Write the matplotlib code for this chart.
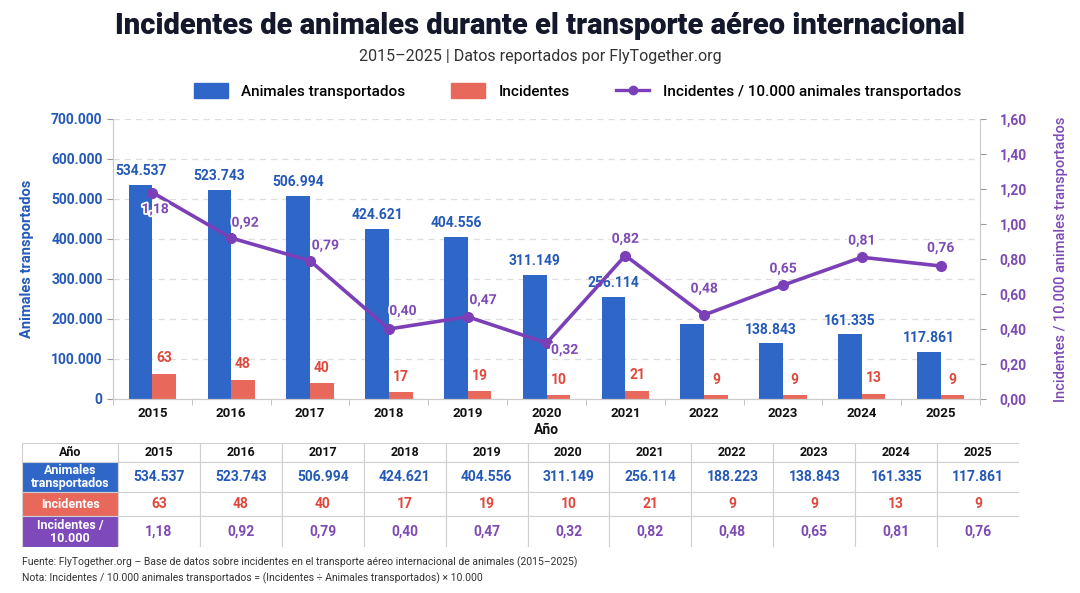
import matplotlib
matplotlib.use("Agg")
import matplotlib.pyplot as plt
import matplotlib.patheffects as pe
from matplotlib.patches import Rectangle
from matplotlib.lines import Line2D
from matplotlib.ticker import FuncFormatter, FixedLocator
import numpy as np

plt.rcParams['font.family'] = ['Roboto', 'DejaVu Sans']

# datos
anios = ["2015", "2016", "2017", "2018", "2019", "2020", "2021", "2022", "2023", "2024", "2025"]
animales = [534537, 523743, 506994, 424621, 404556, 311149, 256114, 188223, 138843, 161335, 117861]
incidentes = [63, 48, 40, 17, 19, 10, 21, 9, 9, 13, 9]
tasa = [1.18, 0.92, 0.79, 0.40, 0.47, 0.32, 0.82, 0.48, 0.65, 0.81, 0.76]
# en el gráfico no aparece la etiqueta de 2022 sobre la barra azul
mostrar_etq_azul = [True, True, True, True, True, True, True, False, True, True, True]

AZUL = "#2F67C9"
ROJO = "#E8695B"
MORADO = "#7B40B8"
MORADO_TXT = "#7E4BB5"
ROJO_TXT = "#E0483C"
AZUL_TXT = "#2459B8"


def miles(v):
    return f"{int(round(v)):,}".replace(",", ".")


def coma(v, nd=2):
    return f"{v:.{nd}f}".replace(".", ",")


fig = plt.figure(figsize=(10.8, 5.93), dpi=100)
fig.patch.set_facecolor("white")

ax = fig.add_axes([113 / 1080, 1 - 399 / 593, 867 / 1080, 280 / 593])
ax2 = ax.twinx()

x = np.arange(len(anios))
w = 0.3
ax.bar(x - w / 2, animales, w, color=AZUL, zorder=2)
# incidentes se dibujan a escala x1000 sobre el eje izquierdo
inc_esc = [v * 1000 for v in incidentes]
ax.bar(x + w / 2, inc_esc, w, color=ROJO, zorder=2)

for i in range(len(anios)):
    if mostrar_etq_azul[i]:
        ax.annotate(miles(animales[i]), (x[i] - w / 2, animales[i]), xytext=(0, 5),
                    textcoords="offset points", ha="center", va="bottom",
                    fontsize=10, fontweight="bold", color=AZUL_TXT)
    ax.annotate(str(incidentes[i]), (x[i] + w / 2, inc_esc[i]), xytext=(0, 6),
                textcoords="offset points", ha="center", va="bottom",
                fontsize=10, fontweight="bold", color=ROJO_TXT)

ax.set_xlim(-0.5, len(anios) - 0.5)
ax.set_ylim(0, 700000)
ax.set_yticks(np.arange(0, 700001, 100000))
ax.yaxis.set_major_formatter(FuncFormatter(lambda v, p: miles(v)))
ax.tick_params(axis="y", colors="#9a9a9a", labelcolor=AZUL_TXT, labelsize=10, length=4)
for t in ax.get_yticklabels():
    t.set_fontweight("bold")
ax.set_xticks(x)
ax.set_xticklabels(anios, fontsize=9.5, fontweight="bold", color="#111111")
ax.xaxis.set_minor_locator(FixedLocator(np.arange(-0.5, len(anios), 1)))
ax.tick_params(axis="x", which="major", length=0, pad=6)
ax.tick_params(axis="x", which="minor", length=4, color="#bbbbbb")
ax.grid(axis="y", linestyle=(0, (5, 4)), color="#dddddd", linewidth=0.9, zorder=0)
ax.set_axisbelow(True)
ax.set_ylabel("Animales transportados", color=AZUL_TXT, fontsize=10.5, fontweight="bold", labelpad=12)
ax.set_xlabel("Año", fontsize=10, fontweight="bold", color="#111111", labelpad=2)
ax.spines["top"].set_visible(False)
ax2.spines["top"].set_visible(False)
for s in ["left", "bottom", "right"]:
    ax.spines[s].set_color("#cccccc")
    ax2.spines[s].set_color("#cccccc")

ax2.plot(x, tasa, color=MORADO, linewidth=2.6, marker="o", markersize=7, zorder=5)
ax2.set_ylim(0, 1.6)
ax2.set_yticks(np.arange(0, 1.61, 0.2))
ax2.yaxis.set_major_formatter(FuncFormatter(lambda v, p: coma(v)))
ax2.tick_params(axis="y", colors="#9a9a9a", labelcolor=MORADO_TXT, labelsize=10, length=4, pad=10)
for t in ax2.get_yticklabels():
    t.set_fontweight("bold")
ax2.set_ylabel("Incidentes / 10.000 animales transportados", color=MORADO_TXT, fontsize=10.5,
               fontweight="medium", labelpad=20)

# posiciones de las etiquetas de la línea (en puntos)
despl = [(2, -12), (10, 11), (11, 11), (10, 13), (11, 12), (13, -5), (0, 12), (0, 19), (0, 12), (0, 12), (0, 13)]
for i in range(len(anios)):
    dx, dy = despl[i]
    ax2.annotate(coma(tasa[i]), (x[i], tasa[i]), xytext=(dx, dy), textcoords="offset points",
                 ha="center", va="center", fontsize=10, fontweight="bold", color=MORADO_TXT,
                 zorder=6, path_effects=[pe.withStroke(linewidth=2.5, foreground="white")])

# titulos
fig.text(0.5, 1 - 26 / 593, "Incidentes de animales durante el transporte aéreo internacional",
         ha="center", va="center", fontsize=21, fontweight="heavy", color="#14182b")
fig.text(0.5, 1 - 57 / 593, "2015–2025 | Datos reportados por FlyTogether.org",
         ha="center", va="center", fontsize=11.5, color="#333333")

# leyenda
handles = [
    Rectangle((0, 0), 1, 1, color=AZUL),
    Rectangle((0, 0), 1, 1, color=ROJO),
    Line2D([0], [0], color=MORADO, linewidth=2.4, marker="o", markersize=6),
]
fig.legend(handles, ["Animales transportados", "Incidentes", "Incidentes / 10.000 animales transportados"],
           loc="center", bbox_to_anchor=(0.535, 1 - 91 / 593), ncol=3, frameon=False,
           handlelength=2.2, handleheight=1.1, columnspacing=3.0, handletextpad=0.9,
           prop={"weight": "medium", "size": 11})

# tabla
tx0, tx1 = 22, 1019
ty0, ty1 = 443, 547
tab = fig.add_axes([tx0 / 1080, 1 - ty1 / 593, (tx1 - tx0) / 1080, (ty1 - ty0) / 593])
tab.set_xlim(tx0, tx1)
tab.set_ylim(ty1, ty0)
tab.axis("off")
col_b = [22, 118] + [118 + (tx1 - 118) * (k + 1) / len(anios) for k in range(len(anios))]
fil_b = [443, 462, 492, 516, 547]
etq_filas = ["Año", "Animales\ntransportados", "Incidentes", "Incidentes /\n10.000"]
colores_filas = ["white", AZUL, ROJO, "#7E49BA"]
colores_txt = ["#111111", AZUL_TXT, ROJO_TXT, MORADO_TXT]
valores = [anios, [miles(v) for v in animales], [str(v) for v in incidentes], [coma(v) for v in tasa]]
for r in range(4):
    y0, y1 = fil_b[r], fil_b[r + 1]
    yc = (y0 + y1) / 2
    tab.add_patch(Rectangle((col_b[0], y0), col_b[1] - col_b[0], y1 - y0,
                            facecolor=colores_filas[r], edgecolor="#cfcfcf", linewidth=0.8))
    tab.text((col_b[0] + col_b[1]) / 2, yc, etq_filas[r], ha="center", va="center",
             fontsize=9, fontweight="bold", linespacing=1.0,
             color="#111111" if r == 0 else "white")
    for c in range(len(anios)):
        xa, xb = col_b[c + 1], col_b[c + 2]
        tab.add_patch(Rectangle((xa, y0), xb - xa, y1 - y0, facecolor="white",
                                edgecolor="#cfcfcf", linewidth=0.8))
        tab.text((xa + xb) / 2, yc, valores[r][c], ha="center", va="center",
                 fontsize=9 if r == 0 else 10, fontweight="bold", color=colores_txt[r])

# notas
fig.text(22 / 1080, 1 - 562 / 593,
         "Fuente: FlyTogether.org – Base de datos sobre incidentes en el transporte aéreo internacional de animales (2015–2025)",
         ha="left", va="center", fontsize=7.5, color="#333333")
fig.text(22 / 1080, 1 - 578 / 593,
         "Nota: Incidentes / 10.000 animales transportados = (Incidentes ÷ Animales transportados) × 10.000",
         ha="left", va="center", fontsize=7.5, color="#333333")

fig.savefig("out.png", dpi=100)
